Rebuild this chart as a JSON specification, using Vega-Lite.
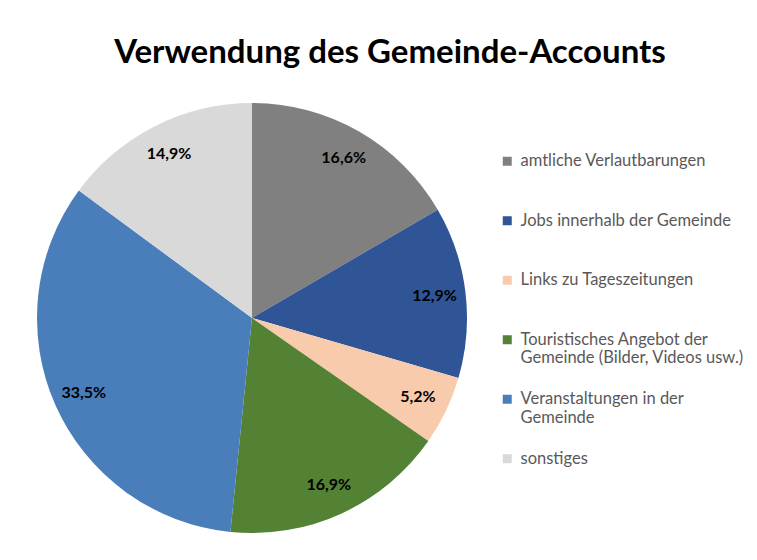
{
  "$schema": "https://vega.github.io/schema/vega-lite/v6.json",
  "width": 430,
  "height": 430,
  "autosize": {"type": "none"},
  "padding": {"left": 37, "top": 103, "right": 290, "bottom": 27},
  "background": "white",
  "title": {
    "text": "Verwendung des Gemeinde-Accounts",
    "font": "Lato",
    "fontSize": 33,
    "fontWeight": "bold",
    "color": "black",
    "anchor": "middle",
    "dx": 138,
    "offset": 33
  },
  "data": {
    "values": [
      {"idx": 1, "Kategorie": "amtliche Verlautbarungen", "Anteil": 0.166},
      {"idx": 2, "Kategorie": "Jobs innerhalb der Gemeinde", "Anteil": 0.129},
      {"idx": 3, "Kategorie": "Links zu Tageszeitungen", "Anteil": 0.052},
      {"idx": 4, "Kategorie": "Touristisches Angebot der Gemeinde (Bilder, Videos usw.)", "Anteil": 0.169},
      {"idx": 5, "Kategorie": "Veranstaltungen in der Gemeinde", "Anteil": 0.335},
      {"idx": 6, "Kategorie": "sonstiges", "Anteil": 0.149}
    ]
  },
  "encoding": {
    "theta": {"field": "Anteil", "type": "quantitative", "stack": true},
    "order": {"field": "idx", "type": "quantitative"},
    "color": {
      "field": "Kategorie",
      "type": "nominal",
      "sort": [
        "amtliche Verlautbarungen",
        "Jobs innerhalb der Gemeinde",
        "Links zu Tageszeitungen",
        "Touristisches Angebot der Gemeinde (Bilder, Videos usw.)",
        "Veranstaltungen in der Gemeinde",
        "sonstiges"
      ],
      "scale": {
        "domain": [
          "amtliche Verlautbarungen",
          "Jobs innerhalb der Gemeinde",
          "Links zu Tageszeitungen",
          "Touristisches Angebot der Gemeinde (Bilder, Videos usw.)",
          "Veranstaltungen in der Gemeinde",
          "sonstiges"
        ],
        "range": ["#808080", "#2F5597", "#F8CBAD", "#548235", "#4A7EBB", "#D9D9D9"]
      },
      "legend": {
        "title": null,
        "orient": "none",
        "legendX": 462,
        "legendY": 50,
        "symbolType": "square",
        "symbolSize": 81,
        "symbolStrokeWidth": 0,
        "labelFont": "Lato",
        "labelFontSize": 16.5,
        "labelColor": "#595959",
        "labelOffset": 5,
        "labelLimit": 300,
        "gridAlign": "all",
        "rowPadding": 23.5,
        "labelExpr": "datum.label == 'Touristisches Angebot der Gemeinde (Bilder, Videos usw.)' ? ['Touristisches Angebot der', 'Gemeinde (Bilder, Videos usw.)'] : datum.label == 'Veranstaltungen in der Gemeinde' ? ['Veranstaltungen in der', 'Gemeinde'] : datum.label"
      }
    }
  },
  "layer": [
    {"mark": {"type": "arc", "stroke": null}},
    {
      "mark": {"type": "text", "radius": 184, "font": "Lato", "fontSize": 16, "fontWeight": "bold"},
      "encoding": {
        "text": {"field": "Anteil", "type": "quantitative", "format": ".1%"},
        "color": {"value": "black"}
      }
    }
  ],
  "config": {
    "view": {"stroke": null},
    "locale": {
      "number": {"decimal": ",", "thousands": ".", "grouping": [3], "currency": ["", " €"]}
    }
  }
}
